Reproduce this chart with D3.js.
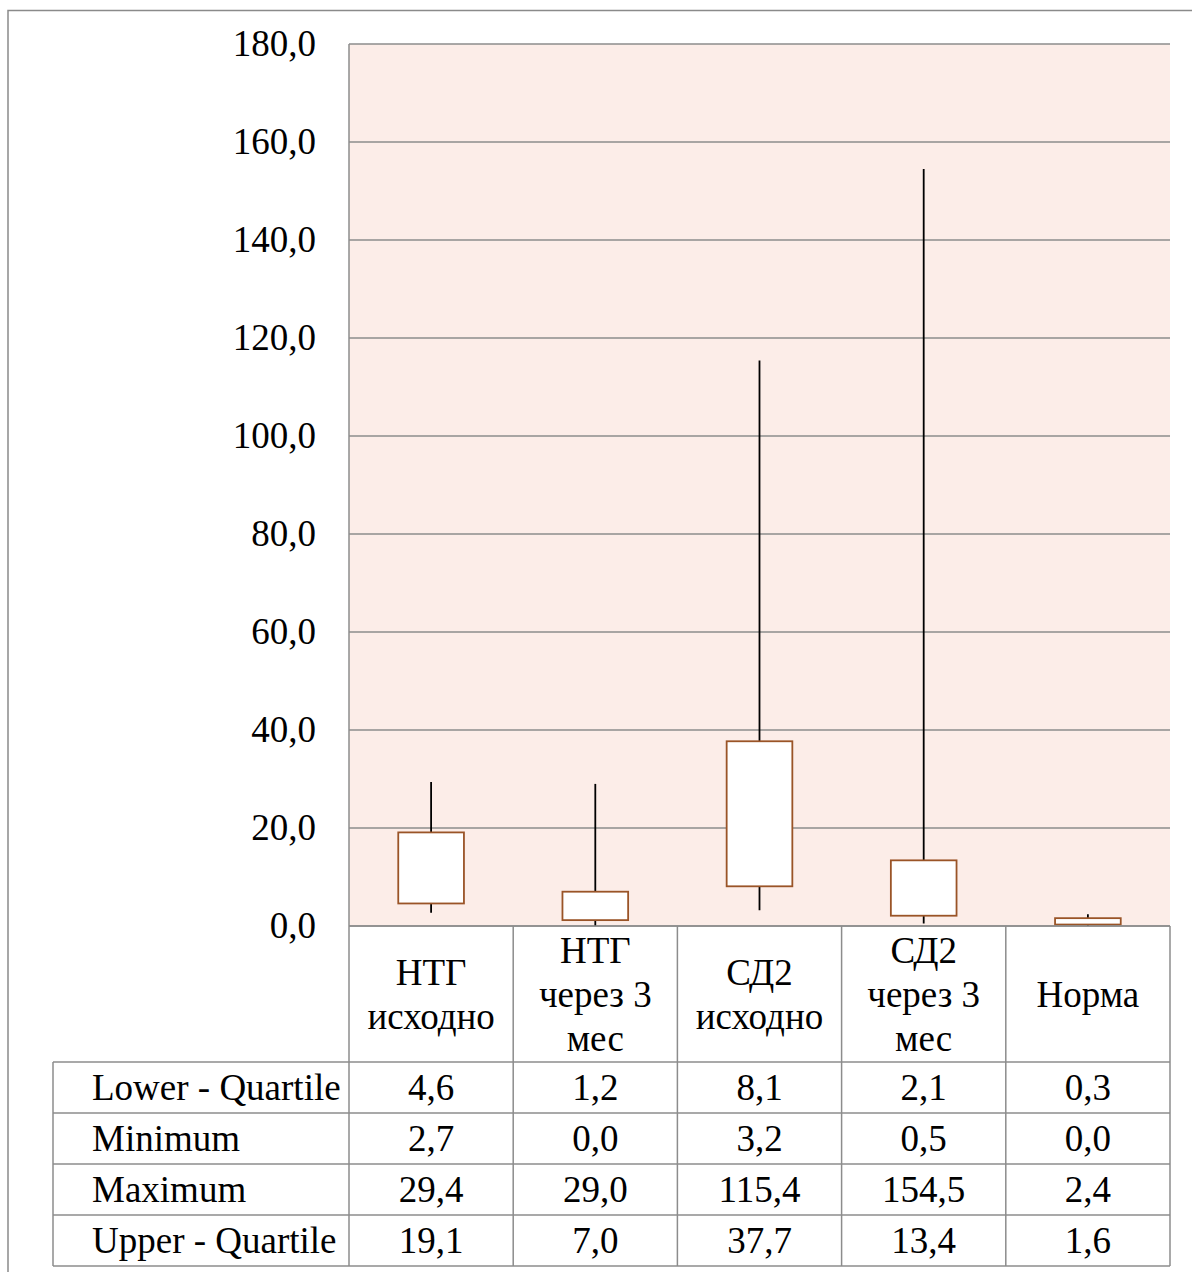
<!DOCTYPE html>
<html><head><meta charset="utf-8">
<script src="https://cdn.jsdelivr.net/npm/d3@7"></script>
<style>html,body{margin:0;padding:0;background:#fff;}svg{display:block;}svg text{font-family:"Liberation Serif","Times New Roman",serif;}</style>
</head><body>
<svg id="c" width="1192" height="1272"></svg>
<script>
const categories = [["НТГ","исходно"],["НТГ","через 3","мес"],["СД2","исходно"],["СД2","через 3","мес"],["Норма"]];
const lowerQuartile = [4.6, 1.2, 8.1, 2.1, 0.3];
const minimum = [2.7, 0.0, 3.2, 0.5, 0.0];
const maximum = [29.4, 29.0, 115.4, 154.5, 2.4];
const upperQuartile = [19.1, 7.0, 37.7, 13.4, 1.6];
const rowLabels = ["Lower - Quartile","Minimum","Maximum","Upper - Quartile"];
const rowSeries = [lowerQuartile, minimum, maximum, upperQuartile];
const yTicks = [0,20,40,60,80,100,120,140,160,180];

const svg = d3.select("#c");
const font = "Liberation Serif";
const fs = 37;
const L = 349, R = 1170, T = 44, B = 926;
const fmt = v => d3.format(".1f")(v).replace(".", ",");

const y = d3.scaleLinear().domain([0,180]).range([B,T]);
const x = d3.scaleBand().domain(d3.range(categories.length)).range([L,R]).padding(0);
const grid = "#8c8c8c";

// outer border
svg.append("path").attr("d",`M8,1272V10.5H1192`).attr("fill","none").attr("stroke","#8a8a8a").attr("stroke-width",1.5);

// plot bg
svg.append("rect").attr("x",L).attr("y",T).attr("width",R-L).attr("height",B-T).attr("fill","#fcede8");

// gridlines
svg.append("g").selectAll("line").data(yTicks).join("line")
  .attr("x1",L).attr("x2",R).attr("y1",d=>y(d)).attr("y2",d=>y(d))
  .attr("stroke",grid).attr("stroke-width",1.5);
svg.append("line").attr("x1",L).attr("x2",L).attr("y1",T).attr("y2",B).attr("stroke",grid).attr("stroke-width",1.5);

// y axis labels
const yAxis = d3.axisLeft(y).tickValues(yTicks).tickFormat(fmt).tickSize(0).tickPadding(33);
const ya = svg.append("g").attr("transform",`translate(${L},0)`).call(yAxis);
ya.select(".domain").remove();
ya.attr("font-family",null).attr("font-size",null);
ya.selectAll("text").attr("font-family",font).attr("font-size",fs).attr("fill","#000");

// boxes
const bw = x.bandwidth()*0.4;
const g = svg.append("g");
categories.forEach((c,i)=>{
  const cx = x(i)+x.bandwidth()/2;
  g.append("line").attr("x1",cx).attr("x2",cx).attr("y1",y(minimum[i])).attr("y2",y(maximum[i]))
    .attr("stroke","#000").attr("stroke-width",1.8);
  g.append("rect").attr("x",cx-bw/2).attr("width",bw)
    .attr("y",y(upperQuartile[i])).attr("height",y(lowerQuartile[i])-y(upperQuartile[i]))
    .attr("fill","#fff").attr("stroke","#9a5427").attr("stroke-width",1.8);
});

// table
const headTop = B, headBot = 1062, rowH = 51;
const tl = 53;
const tg = svg.append("g");
const lineAttr = s => s.attr("stroke",grid).attr("stroke-width",1.5);
categories.forEach((c,i)=>{
  const cx = x(i)+x.bandwidth()/2;
  const n = c.length;
  const lh = 44;
  const mid = (headTop+headBot)/2;
  c.forEach((t,k)=>{
    tg.append("text").attr("x",cx).attr("y",mid+(k-(n-1)/2)*lh).attr("dy","0.35em")
      .attr("text-anchor","middle").attr("font-family",font).attr("font-size",fs).text(t);
  });
});
d3.range(categories.length+1).forEach(i=>{
  const xx = i<categories.length ? x(i) : R;
  lineAttr(tg.append("line").attr("x1",xx).attr("x2",xx).attr("y1",headTop).attr("y2",headBot+rowH*rowLabels.length));
});
lineAttr(tg.append("line").attr("x1",L).attr("x2",R).attr("y1",headTop).attr("y2",headTop));
rowLabels.forEach((lab,r)=>{
  const yt = headBot + r*rowH;
  tg.append("text").attr("x",92).attr("y",yt+rowH/2).attr("dy","0.35em")
    .attr("font-family",font).attr("font-size",fs).text(lab);
  rowSeries[r].forEach((v,i)=>{
    tg.append("text").attr("x",x(i)+x.bandwidth()/2).attr("y",yt+rowH/2).attr("dy","0.35em")
      .attr("text-anchor","middle").attr("font-family",font).attr("font-size",fs).text(fmt(v));
  });
});
d3.range(rowLabels.length+1).forEach(r=>{
  const yy = headBot + r*rowH;
  lineAttr(tg.append("line").attr("x1",tl).attr("x2",R).attr("y1",yy).attr("y2",yy));
});
lineAttr(tg.append("line").attr("x1",tl).attr("x2",tl).attr("y1",headBot).attr("y2",headBot+rowH*rowLabels.length));
</script>
</body></html>
